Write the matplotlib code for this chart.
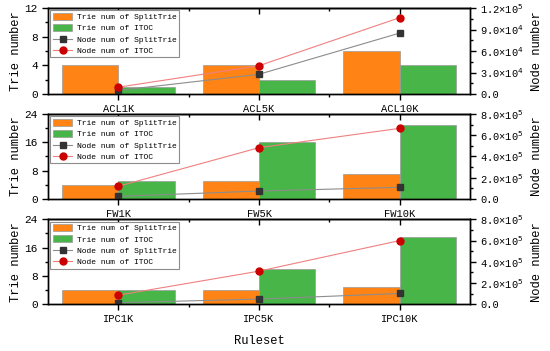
import matplotlib
matplotlib.use("Agg")
import matplotlib.pyplot as plt
from matplotlib.ticker import MultipleLocator, FuncFormatter
from matplotlib.patches import Patch
from matplotlib.lines import Line2D
import numpy as np

plt.rcParams["font.family"] = ["Liberation Mono", "DejaVu Sans"]

acl_names = ["ACL1K", "ACL5K", "ACL10K"]
acl_trie_split = [4, 4, 6]
acl_trie_itoc = [1, 2, 4]
acl_node_split = [5000, 27500, 85000]
acl_node_itoc = [9500, 39500, 106500]

fw_names = ["FW1K", "FW5K", "FW10K"]
fw_trie_split = [4, 5, 7]
fw_trie_itoc = [5, 16, 21]
fw_node_split = [25000, 75000, 110000]
fw_node_itoc = [120000, 483000, 665000]

ipc_names = ["IPC1K", "IPC5K", "IPC10K"]
ipc_trie_split = [4, 4, 5]
ipc_trie_itoc = [4, 10, 19]
ipc_node_split = [15000, 49000, 102000]
ipc_node_itoc = [86000, 312000, 600000]

ORANGE = "#FF8415"
GREEN = "#48B548"
W = 0.4


def sci_fmt(v, _):
    if v == 0:
        return "0.0"
    e = int(np.floor(np.log10(abs(v))))
    m = v / 10 ** e
    return f"{m:.1f}×10$^{{{e}}}$"


def panel(ax, names, ts, ti, ns, ni, lmax, lstep, rmax, rstep):
    x = np.arange(len(names))
    ax.bar(x - W / 2, ts, W, color=ORANGE, edgecolor="#9a9a9a", linewidth=0.5)
    ax.bar(x + W / 2, ti, W, color=GREEN, edgecolor="#9a9a9a", linewidth=0.5)
    ax.set_xlim(-0.5, 2.5)
    ax.set_ylim(0, lmax)
    ax.yaxis.set_major_locator(MultipleLocator(lstep))
    ax.yaxis.set_minor_locator(MultipleLocator(lstep / 2))
    ax.set_xticks(x)
    ax.set_xticklabels(names, fontsize=7.5)
    ax.set_xticks([0.5, 1.5], minor=True)
    ax.tick_params(axis="y", labelsize=8, length=4, width=1, direction="out")
    ax.tick_params(axis="y", which="minor", length=2, width=1)
    ax.tick_params(axis="x", length=4, width=1, direction="out", pad=3)
    ax.tick_params(axis="x", which="minor", length=2, width=1)
    ax.set_ylabel("Trie number", fontsize=8.7, labelpad=2)
    top = ax.secondary_xaxis("top")
    top.set_xticks(x)
    top.set_xticks([0.5, 1.5], minor=True)
    top.tick_params(direction="in", length=4, width=1, labeltop=False)
    top.tick_params(which="minor", direction="in", length=2, width=1)
    top.spines["top"].set_linewidth(1)

    ax2 = ax.twinx()
    ax2.plot(x, ns, color="#8c8c8c", lw=0.8, marker="s", ms=4.5,
             mfc="#333333", mec="#333333")
    ax2.plot(x, ni, color="#f08080", lw=0.8, marker="o", ms=5,
             mfc="#cc0000", mec="#cc0000")
    ax2.set_ylim(0, rmax)
    ax2.yaxis.set_major_locator(MultipleLocator(rstep))
    ax2.yaxis.set_minor_locator(MultipleLocator(rstep / 2))
    ax2.yaxis.set_major_formatter(FuncFormatter(sci_fmt))
    ax2.tick_params(axis="y", labelsize=7.5, length=4, width=1)
    ax2.tick_params(axis="y", which="minor", length=2, width=1)
    ax2.set_ylabel("Node number", fontsize=8.7, labelpad=5)
    for a in (ax, ax2):
        for s in a.spines.values():
            s.set_linewidth(1)

    handles = [
        Patch(facecolor=ORANGE, edgecolor="#9a9a9a", linewidth=0.5),
        Patch(facecolor=GREEN, edgecolor="#9a9a9a", linewidth=0.5),
        Line2D([], [], color="#8c8c8c", lw=0.8, marker="s", ms=4.5,
               mfc="#333333", mec="#333333"),
        Line2D([], [], color="#f08080", lw=0.8, marker="o", ms=5,
               mfc="#cc0000", mec="#cc0000"),
    ]
    labels = ["Trie num of SplitTrie", "Trie num of ITOC",
              "Node num of SplitTrie", "Node num of ITOC"]
    leg = ax2.legend(handles, labels, loc="upper left", fontsize=5.8,
                     frameon=True, fancybox=False, edgecolor="#8c8c8c",
                     framealpha=1, handlelength=2.4, handleheight=0.9,
                     handletextpad=0.6, labelspacing=0.4, borderpad=0.3,
                     borderaxespad=0.3)
    leg.get_frame().set_linewidth(0.8)
    return ax2


fig = plt.figure(figsize=(5.5, 3.51), dpi=100)
L, Wd = 48 / 550, 422 / 550
ax1 = fig.add_axes([L, 1 - 94 / 351, Wd, 86 / 351])
ax2 = fig.add_axes([L, 1 - 199 / 351, Wd, 85 / 351])
ax3 = fig.add_axes([L, 1 - 304.3 / 351, Wd, 85 / 351])

panel(ax1, acl_names, acl_trie_split, acl_trie_itoc, acl_node_split,
      acl_node_itoc, 12, 4, 1.2e5, 3e4)
panel(ax2, fw_names, fw_trie_split, fw_trie_itoc, fw_node_split,
      fw_node_itoc, 24, 8, 8e5, 2e5)
panel(ax3, ipc_names, ipc_trie_split, ipc_trie_itoc, ipc_node_split,
      ipc_node_itoc, 24, 8, 8e5, 2e5)
ax3.set_xlabel("Ruleset", fontsize=8.7, labelpad=8)

fig.savefig("out.png", dpi=100)
